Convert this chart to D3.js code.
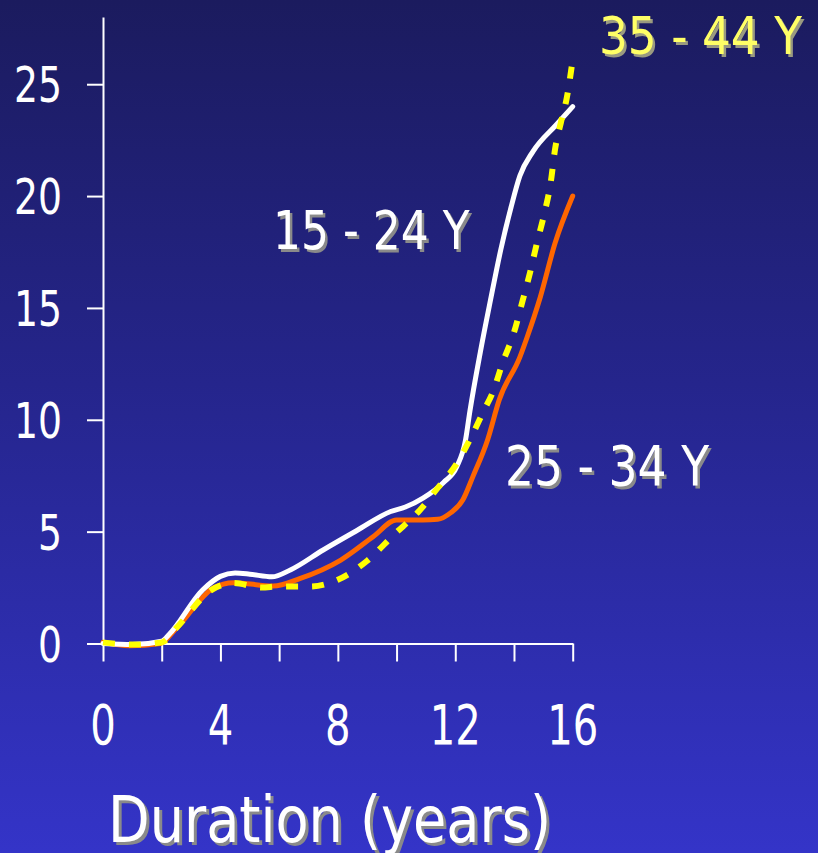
<!DOCTYPE html>
<html>
<head>
<meta charset="utf-8">
<script src="https://cdn.jsdelivr.net/npm/d3@7"></script>
<style>
  html, body { margin: 0; padding: 0; background: #26268c; }
  svg { display: block; }
</style>
</head>
<body>
<svg id="chart" width="818" height="853"></svg>
<script>
// ---- data ----
const xTicks = [0, 2, 4, 6, 8, 10, 12, 14, 16];
const xTickLabels = ["0", "", "4", "", "8", "", "12", "", "16"];
const yTicks = [0, 5, 10, 15, 20, 25];
const yTickLabels = ["0", "5", "10", "15", "20", "25"];

const seriesNames = ["15 - 24 Y", "25 - 34 Y", "35 - 44 Y"];

const x1524 = [0, 1, 2, 2.25, 3.4, 4.0, 4.5, 5.0, 5.75, 6.4, 7.5, 8.65, 9.8, 10.3, 10.9, 11.6, 12.05, 12.35, 12.5, 12.85, 13.2, 13.55, 13.9, 14.2, 14.65, 15.45, 16];
const y1524 = [0, -0.05, 0.1, 0.4, 2.4, 3.0, 3.15, 3.1, 2.98, 3.3, 4.18, 5.05, 5.9, 6.1, 6.5, 7.2, 7.9, 9.1, 10.4, 13.0, 15.35, 17.6, 19.5, 20.9, 22.0, 23.2, 24.0];

const x2534 = [0, 0.9, 1.95, 2.5, 3.75, 4.45, 5.8, 6.7, 8.1, 9.2, 10.0, 10.9, 11.4, 11.85, 12.25, 12.6, 13.1, 13.5, 14.2, 14.45, 14.9, 15.4, 16];
const y2534 = [0.05, -0.1, 0.0, 0.68, 2.47, 2.72, 2.57, 2.9, 3.73, 4.77, 5.52, 5.52, 5.55, 5.85, 6.4, 7.46, 9.1, 10.9, 12.8, 13.7, 15.5, 17.9, 20.0];

const x3544 = [0, 1, 2, 2.5, 3.7, 4.45, 5.4, 6.0, 7.05, 8.0, 9.0, 9.9, 10.8, 11.4, 12.05, 12.55, 12.97, 13.3, 13.6, 14.0, 14.3, 14.55, 14.8, 15.05, 15.25, 15.4, 15.6, 15.8, 16.0];
const y3544 = [0.05, -0.05, 0.05, 0.7, 2.4, 2.7, 2.5, 2.55, 2.55, 2.85, 3.7, 4.85, 5.97, 6.95, 8.05, 9.25, 10.4, 11.3, 12.5, 13.9, 15.35, 16.6, 18.0, 19.3, 20.6, 22.1, 23.3, 24.4, 26.1];

const xTitle = "Duration (years)";

// ---- drawing ----
const W = 818, H = 853;
const svg = d3.select("#chart");

const defs = svg.append("defs");
const grad = defs.append("linearGradient")
  .attr("id", "bg").attr("x1", 0).attr("y1", 0).attr("x2", 0).attr("y2", 1);
grad.append("stop").attr("offset", "0%").attr("stop-color", "#1b1b5e");
grad.append("stop").attr("offset", "45%").attr("stop-color", "#25258c");
grad.append("stop").attr("offset", "100%").attr("stop-color", "#3434c8");
svg.append("rect").attr("width", W).attr("height", H).attr("fill", "url(#bg)");

const x = d3.scaleLinear().domain([0, 16]).range([103, 572.7]);
const y = d3.scaleLinear().domain([0, 28]).range([643.5, 17.1]);

const FONT = "'DejaVu Sans', Verdana, sans-serif";

function label(text, px, py, opts) {
  const g = svg.append("g").attr("transform", `translate(${px},${py}) scale(${opts.sx},1)`);
  if (opts.shadow) {
    g.append("text")
      .attr("x", opts.shadowDx / opts.sx).attr("y", opts.shadowDy)
      .attr("text-anchor", opts.anchor || "start")
      .attr("font-family", FONT).attr("font-size", opts.size)
      .attr("fill", opts.shadow)
      .text(text);
  }
  g.append("text")
    .attr("x", 0).attr("y", 0)
    .attr("text-anchor", opts.anchor || "start")
    .attr("font-family", FONT).attr("font-size", opts.size)
    .attr("fill", opts.fill)
    .text(text);
}

// Y axis
const yAxis = d3.axisLeft(y).tickValues(yTicks).tickSize(16).tickSizeOuter(0).tickFormat("");
const gy = svg.append("g").attr("transform", `translate(${x(0)},0)`).call(yAxis);
gy.select(".domain").attr("stroke", "#ffffff").attr("stroke-width", 2);
gy.selectAll(".tick line").attr("stroke", "#ffffff").attr("stroke-width", 2);

// X axis
const xAxis = d3.axisBottom(x).tickValues(xTicks).tickSize(18).tickSizeOuter(0).tickFormat("");
const gx = svg.append("g").attr("transform", `translate(0,${y(0)})`).call(xAxis);
gx.select(".domain").attr("stroke", "#ffffff").attr("stroke-width", 2);
gx.selectAll(".tick line").attr("stroke", "#ffffff").attr("stroke-width", 2);

// tick labels
yTicks.forEach((v, i) => {
  label(yTickLabels[i], 62, y(v) + 18, { sx: 0.755, size: 50, fill: "#ffffff", anchor: "end" });
});
xTicks.forEach((v, i) => {
  if (xTickLabels[i]) label(xTickLabels[i], x(v), 744, { sx: 0.73, size: 55, fill: "#ffffff", anchor: "middle" });
});

// lines
const line = d3.line().x(d => x(d[0])).y(d => y(d[1])).curve(d3.curveMonotoneX);
const zip = (a, b) => a.map((v, i) => [v, b[i]]);

svg.append("path").datum(zip(x2534, y2534))
  .attr("d", line).attr("fill", "none")
  .attr("stroke", "#ff6600").attr("stroke-width", 5)
  .attr("stroke-linejoin", "round").attr("stroke-linecap", "round");

svg.append("path").datum(zip(x1524, y1524))
  .attr("d", line).attr("fill", "none")
  .attr("stroke", "#ffffff").attr("stroke-width", 5)
  .attr("stroke-linejoin", "round").attr("stroke-linecap", "round");

svg.append("path").datum(zip(x3544, y3544))
  .attr("d", line).attr("fill", "none")
  .attr("stroke", "#ffff00").attr("stroke-width", 6)
  .attr("stroke-dasharray", "12,14");

// annotations
label(seriesNames[0], 273, 249, { sx: 0.83, size: 53, fill: "#ffffff", shadow: "#8a8a8a", shadowDx: 2.5, shadowDy: 2.5 });
label(seriesNames[1], 505, 485, { sx: 0.83, size: 55, fill: "#ffffff", shadow: "#8a8a8a", shadowDx: 2.5, shadowDy: 2.5 });
label(seriesNames[2], 599, 54, { sx: 0.89, size: 51, fill: "#ffff66", shadow: "#9a9a80", shadowDx: 2.5, shadowDy: 2.5 });

// axis title
label(xTitle, 108, 842, { sx: 0.845, size: 64, fill: "#ffffff", shadow: "#8a8a8a", shadowDx: 3, shadowDy: 3 });
</script>
</body>
</html>
